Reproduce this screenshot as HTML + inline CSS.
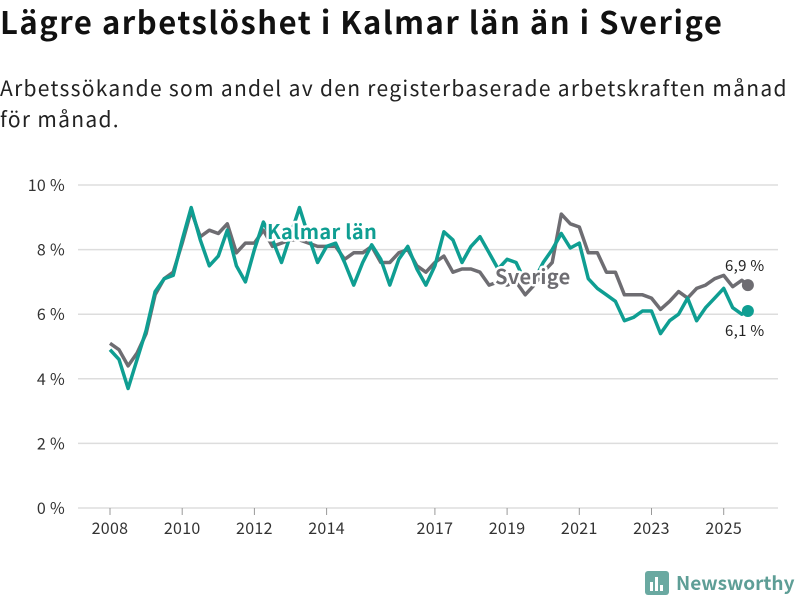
<!DOCTYPE html>
<html><head><meta charset="utf-8">
<style>
body{margin:0;width:800px;height:600px;background:#fff;font-family:"Noto Sans CJK SC","DejaVu Sans",sans-serif;overflow:hidden;position:relative}
h1{position:absolute;left:0;top:-1px;margin:0;font-size:31px;line-height:44px;font-weight:bold;color:#111;white-space:nowrap;letter-spacing:1.5px}
p{position:absolute;left:0;top:73px;margin:0;font-size:21px;line-height:31px;color:#222;white-space:nowrap;letter-spacing:1.3px}
svg{position:absolute;left:0;top:0}
svg text{font-family:"Noto Sans CJK SC","DejaVu Sans",sans-serif}
</style></head><body>
<h1>Lägre arbetslöshet i Kalmar län än i Sverige</h1>
<p>Arbetssökande som andel av den registerbaserade arbetskraften månad<br>för månad.</p>
<svg id="chart" width="800" height="600"></svg>
<script>
const kalmar=[4.9,4.6,3.7,4.6, 5.5,6.7,7.1,7.2, 8.3,9.3,8.3,7.5, 7.8,8.6,7.5,7.0, 8.0,8.85,8.3,7.6, 8.45,9.3,8.4,7.6, 8.1,8.2,7.6,6.9, 7.6,8.15,7.7,6.9, 7.7,8.1,7.4,6.9, 7.5,8.55,8.3,7.6, 8.1,8.4,7.9,7.4, 7.7,7.6,7.0,7.05, 7.6,8.0,8.5,8.05, 8.2,7.1,6.8,6.6, 6.4,5.8,5.9,6.1, 6.1,5.4,5.8,6.0, 6.5,5.8,6.2,6.5, 6.8,6.2,6.0,6.1];
const sverige=[5.1,4.9,4.4,4.8, 5.4,6.6,7.1,7.3, 8.2,9.2,8.4,8.6, 8.5,8.8,7.9,8.2, 8.2,8.6,8.1,8.2, 8.3,8.3,8.2,8.1, 8.1,8.1,7.7,7.9, 7.9,8.1,7.6,7.6, 7.9,8.0,7.5,7.3, 7.6,7.8,7.3,7.4, 7.4,7.3,6.9,7.0, 6.9,7.0,6.6,6.9, 7.3,7.6,9.1,8.8, 8.7,7.9,7.9,7.3, 7.3,6.6,6.6,6.6, 6.5,6.15,6.4,6.7, 6.5,6.8,6.9,7.1, 7.2,6.85,7.05,6.9];
const yTicks=[0,2,4,6,8,10];
const xTicks=[2008,2010,2012,2014,2017,2019,2021,2023,2025];
const NS="http://www.w3.org/2000/svg";
const svg=document.getElementById('chart');
const x=t=>110+(t-2008)*36.1;
const y=v=>508-v*32.3;
const tOf=(i,n)=>i===n-1?2025.67:2008+i*0.25;
function mk(tag,attrs,parent){const e=document.createElementNS(NS,tag);for(const k in attrs)e.setAttribute(k,attrs[k]);(parent||svg).appendChild(e);return e;}
yTicks.forEach(v=>{
 const l=mk('line',{x1:78,x2:778,y1:y(v),y2:y(v),stroke:'#ddd','stroke-width':1.5});
 
 
 const t=mk('text',{x:65,y:y(v)+6,'text-anchor':'end','font-size':16,fill:'#333','letter-spacing':0.3});
 t.textContent=v+' %';
 
 
});
xTicks.forEach(yr=>{
 const l=mk('line',{x1:x(yr),x2:x(yr),y1:508,y2:515,stroke:'#999','stroke-width':1});
 
 
 const t=mk('text',{x:x(yr),y:534,'text-anchor':'middle','font-size':16,fill:'#333','letter-spacing':0.3});
 t.textContent=yr;
 
 
});
function line(data,color,name){
 const d=data.map((v,i)=>(i?'L':'M')+x(tOf(i,data.length)).toFixed(1)+','+y(v).toFixed(1)).join('');
 const p=mk('path',{d:d,fill:'none',stroke:color,'stroke-width':3.5,'stroke-linejoin':'round'});
 
 
 const n=data.length-1;
 const c=mk('circle',{cx:x(tOf(n,data.length)),cy:y(data[n]),r:6,fill:color});
 
 
}
line(sverige,'#6e6d72','sverige');
line(kalmar,'#0f9e92','kalmar');
function label(tx,lx,ly,color,size,bold,name){
 const t=mk('text',{x:lx,y:ly,'font-size':size,fill:color,'font-weight':bold?'bold':'normal',stroke:'#fff','stroke-width':bold?5:4,'paint-order':'stroke','stroke-linejoin':'round','letter-spacing':0.3});
 t.textContent=tx;
 
 
}
label('Kalmar län',267,239,'#0f9e92',20,true,'kalmar-series-label');
label('Sverige',495,284,'#6e6d72',20,true,'sverige-series-label');
label('6,9 %',725,271,'#222',15,false,'sverige-end-value');
label('6,1 %',725,336,'#222',15,false,'kalmar-end-value');
const g=mk('g',{});


mk('rect',{x:645,y:571,width:24,height:24,rx:3,fill:'#6aa9a1'},g);
mk('rect',{x:650,y:582,width:3,height:9,fill:'#fff'},g);
mk('rect',{x:655,y:577,width:3,height:14,fill:'#fff'},g);
mk('rect',{x:660,y:585,width:3,height:6,fill:'#fff'},g);
const lt=mk('text',{x:676,y:590,'font-size':19,'font-weight':'bold',fill:'#5e9e96'},g);
lt.textContent='Newsworthy';
</script>
</body></html>
